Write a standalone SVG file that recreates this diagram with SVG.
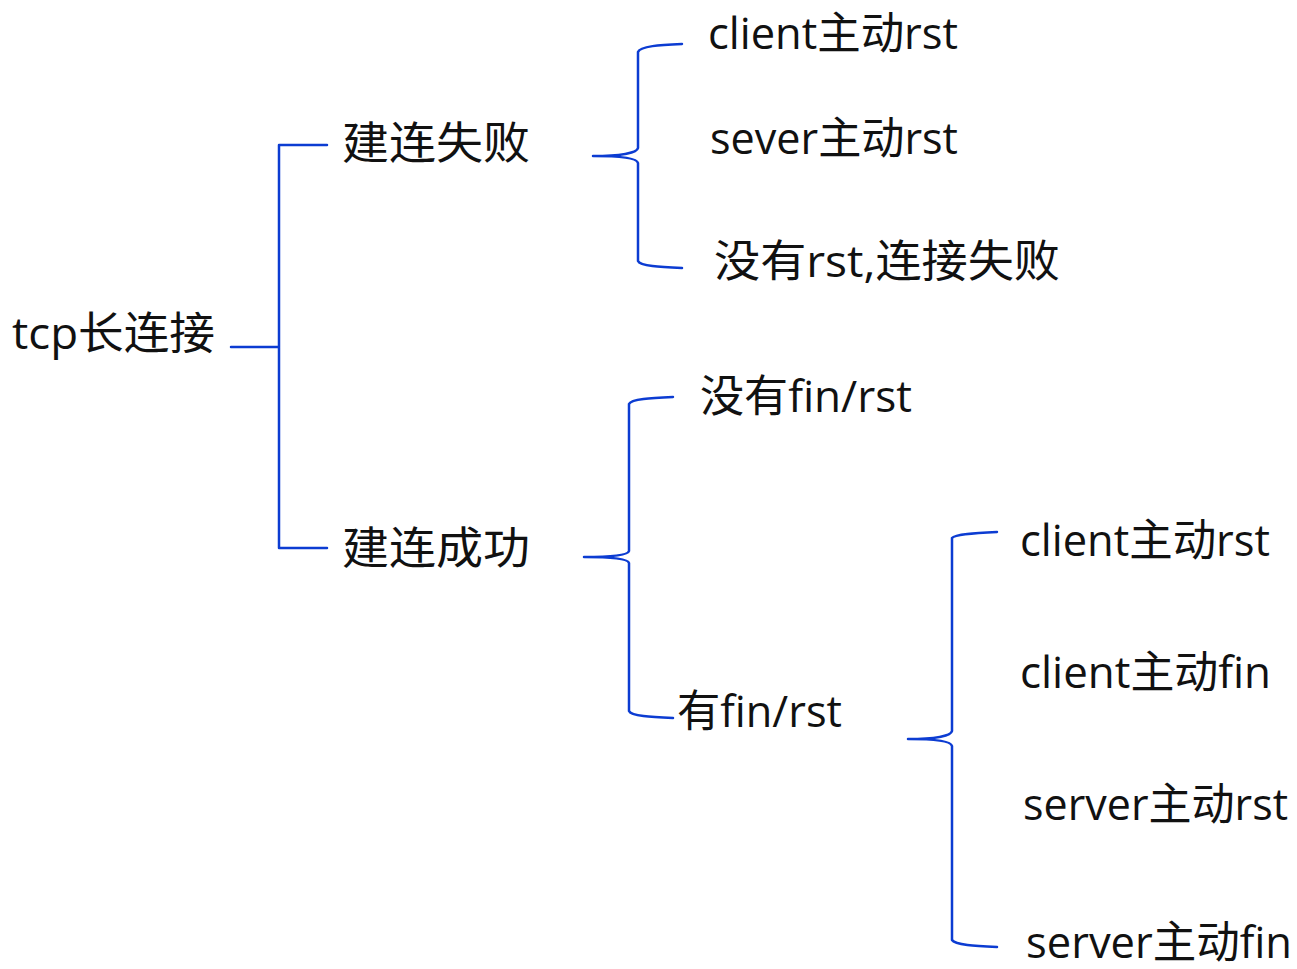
<svg xmlns="http://www.w3.org/2000/svg" width="1297" height="969" viewBox="0 0 1297 969">
  <style>
    .lbl { font-family: "Open Sans", "Noto Sans CJK SC", sans-serif; font-size: 44px; fill: #111; }
    .link { fill: none; stroke: #0c3cd2; stroke-width: 2.5; stroke-linecap: round; stroke-linejoin: round; }
  </style>
  <rect width="1297" height="969" fill="#ffffff"/>

  <!-- connectors: one square bracket and three curly braces -->
  <g id="connectors">
    <path class="link" d="M231,347 H279 M327,145 H279 V548 H327"/>
    <path class="link" d="M682,44 C660,45 640,46 638,52 V148 C637,153 620,156 593,156 C620,156 637,158 638,163 V261 C640,266 660,267 682,268"/>
    <path class="link" d="M673,397 C651,398 631,399 629,404 V551 C628,555 611,557 584,557 C611,557 628,559 629,563 V711 C631,716 651,717 673,718"/>
    <path class="link" d="M997,532 C975,533 955,534 952,538 V731 C951,736 935,739 908,739 C935,739 951,741 952,746 V940 C955,945 975,946 997,947"/>
  </g>

  <g id="root"><text class="lbl" x="12" y="349" textLength="203" lengthAdjust="spacingAndGlyphs">tcp长连接</text></g>

  <g id="fail"><text class="lbl" x="342" y="159" textLength="188" lengthAdjust="spacingAndGlyphs">建连失败</text></g>
  <g id="ok"><text class="lbl" x="342" y="564" textLength="188" lengthAdjust="spacingAndGlyphs">建连成功</text></g>

  <g id="fail-client-rst"><text class="lbl" x="708" y="49" textLength="250" lengthAdjust="spacingAndGlyphs">client主动rst</text></g>
  <g id="fail-server-rst"><text class="lbl" x="710" y="154" textLength="248" lengthAdjust="spacingAndGlyphs">sever主动rst</text></g>
  <g id="fail-no-rst"><text class="lbl" x="714" y="277" textLength="346" lengthAdjust="spacingAndGlyphs">没有rst,连接失败</text></g>

  <g id="ok-none"><text class="lbl" x="700" y="412" textLength="212" lengthAdjust="spacingAndGlyphs">没有fin/rst</text></g>
  <g id="ok-some"><text class="lbl" x="677" y="727" textLength="165" lengthAdjust="spacingAndGlyphs">有fin/rst</text></g>

  <g id="client-rst"><text class="lbl" x="1020" y="556" textLength="250" lengthAdjust="spacingAndGlyphs">client主动rst</text></g>
  <g id="client-fin"><text class="lbl" x="1020" y="688" textLength="251" lengthAdjust="spacingAndGlyphs">client主动fin</text></g>
  <g id="server-rst"><text class="lbl" x="1023" y="820" textLength="265" lengthAdjust="spacingAndGlyphs">server主动rst</text></g>
  <g id="server-fin"><text class="lbl" x="1026" y="958" textLength="266" lengthAdjust="spacingAndGlyphs">server主动fin</text></g>
</svg>
